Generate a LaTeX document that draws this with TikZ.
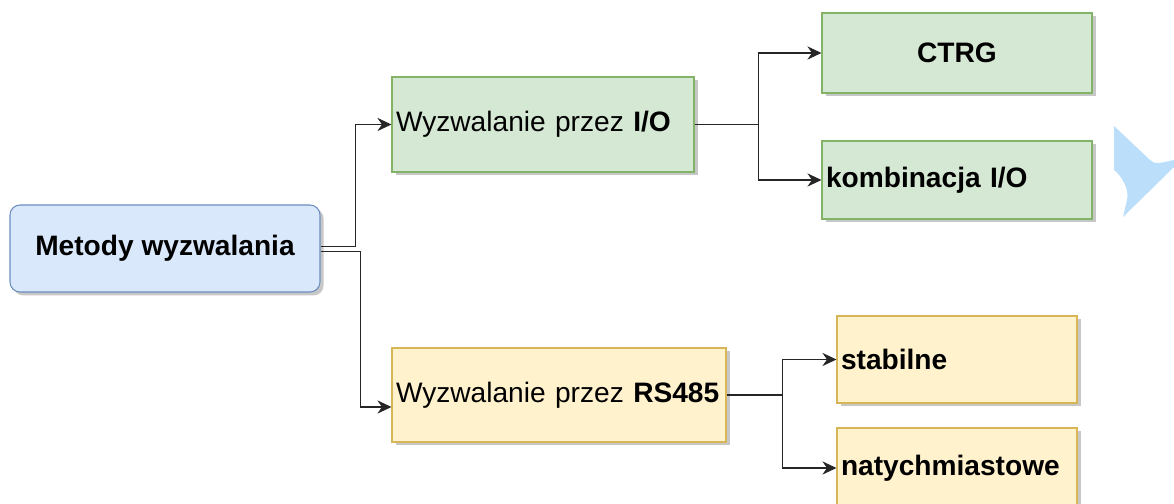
\documentclass[tikz,border=0pt]{standalone}
\usepackage{fontspec}
\setmainfont{Liberation Sans}
\usetikzlibrary{arrows.meta,positioning,calc,shadows}

\definecolor{rootfill}{HTML}{DAE8FC}
\definecolor{rootline}{HTML}{6C8EBF}
\definecolor{iofill}{HTML}{D5E8D4}
\definecolor{ioline}{HTML}{82B366}
\definecolor{rsfill}{HTML}{FFF2CC}
\definecolor{rsline}{HTML}{D6B656}
\definecolor{hintblue}{RGB}{187,222,251}

\begin{document}
\begin{tikzpicture}[
    font=\fontsize{16}{19}\selectfont,
    box/.style={draw, rectangle, line width=0.6pt, inner xsep=0.08cm, inner ysep=0pt,
        drop shadow={shadow xshift=0.07cm, shadow yshift=-0.07cm, fill=black!22, opacity=1}},
    rootbox/.style={box, fill=rootfill, draw=rootline, rounded corners=0.2cm,
        minimum width=6.2cm, minimum height=1.74cm, font=\fontsize{16}{19}\selectfont\bfseries},
    iobox/.style={box, fill=iofill, draw=ioline},
    rsbox/.style={box, fill=rsfill, draw=rsline},
    arrow/.style={-{Stealth[length=8pt,width=7.5pt]}, line width=0.8pt, black!85}
]
\useasboundingbox (0,0) rectangle (23.48,10.08);

\node[rootbox] (root) at (3.30,5.11) {Metody wyzwalania};

% I/O branch
\node[iobox, minimum height=1.9cm, text width=5.88cm, align=left] (io) at (10.86,7.59)
    {Wyzwalanie przez \textbf{I/O}};
\node[iobox, minimum width=5.4cm, minimum height=1.6cm, font=\fontsize{16}{19}\selectfont\bfseries]
    (ctrg) at (19.14,9.02) {CTRG};
\node[iobox, minimum height=1.56cm, text width=5.24cm, align=left] (komb) at (19.14,6.48)
    {\textbf{kombinacja I/O}};

% RS485 branch
\node[rsbox, minimum height=1.88cm, text width=6.52cm, align=left] (rs) at (11.18,2.18)
    {Wyzwalanie przez \textbf{RS485}};
\node[rsbox, minimum height=1.74cm, text width=4.64cm, align=left] (stab) at (19.14,2.89)
    {\textbf{stabilne}};
\node[rsbox, minimum height=1.6cm, text width=4.64cm, align=left] (naty) at (19.14,0.72)
    {\textbf{natychmiastowe}};

% connectors
\draw[arrow] ($(root.east)+(0,0.04)$) -- ++(0.7,0) |- (io.west);
\draw[arrow] ($(root.east)+(0,-0.06)$) -- ++(0.8,0) |- ($(rs.west)+(0,-0.24)$);

\draw[arrow] (io.east) -- ++(1.28,0) |- (ctrg.west);
\draw[arrow] (io.east) -- ++(1.28,0) |- (komb.west);

\draw[arrow] (rs.east) -- ++(1.12,0) |- (stab.west);
\draw[arrow] (rs.east) -- ++(1.12,0) |- (naty.west);

% hover hint at the right edge
\fill[hintblue] (22.28,7.56) -- (23.0,6.88) .. controls (23.1,6.78) and (23.2,6.82) .. (23.48,6.88)
    -- (23.48,6.74) -- (22.46,5.74) -- (22.54,6.08)
    .. controls (22.6,6.3) and (22.4,6.6) .. (22.28,6.68) -- cycle;

\end{tikzpicture}
\end{document}
